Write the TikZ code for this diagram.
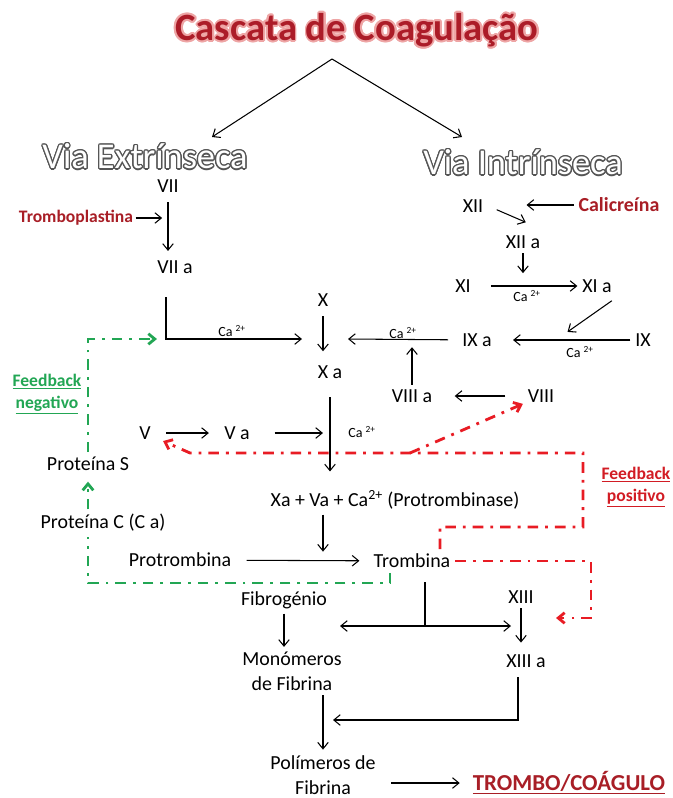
\documentclass[tikz,border=0pt]{standalone}
\usepackage{fontspec}
\setmainfont{Carlito}
\usepackage{contour}
\usetikzlibrary{arrows.meta}

\definecolor{titrerouge}{RGB}{172,28,40}
\definecolor{halo}{RGB}{238,165,165}
\definecolor{rougefonce}{RGB}{168,30,38}
\definecolor{rougevif}{RGB}{232,28,36}
\definecolor{rougetexte}{RGB}{210,28,36}
\definecolor{vert}{RGB}{34,166,84}
\definecolor{contourgris}{RGB}{85,85,85}

\tikzset{
  fac/.style={inner sep=4pt, align=center, font=\fontsize{17}{21}\selectfont},
  ca/.style={inner sep=1pt, font=\fontsize{12}{14}\selectfont},
  gras/.style 2 args={font=\fontsize{#1}{#2}\selectfont\bfseries},
  voie/.style={inner sep=0pt, font=\fontsize{31}{36}\selectfont},
  fl/.style={line width=0.9pt, ->},
  trait/.style={line width=0.9pt},
  retro/.style={line width=2.4pt, dash pattern=on 9pt off 6pt on 2.4pt off 6pt},
}

\begin{document}
\begin{tikzpicture}[x=0.03cm, y=-0.03cm, >={Straight Barb[length=5.5pt,width=9pt]}]
\useasboundingbox (0,0) rectangle (673,798);
% titre et les deux voies
\node[gras={33}{38}, text=titrerouge] (titre) at (357,31) {\contourlength{1.6pt}\contour{halo}{Cascata de Coagulação}};
\node[voie, text=white] (vext) at (145,157) {\contourlength{1.1pt}\contour{contourgris}{Via Extrínseca}};
\node[voie, text=white] (vint) at (523,163) {\contourlength{1.1pt}\contour{contourgris}{Via Intrínseca}};
\coordinate (apex) at (332,59);
\coordinate (versext) at (212,137);
\coordinate (versint) at (462,137);
\draw[fl] (apex) -- (versext);
\draw[fl] (apex) -- (versint);
% voie extrinseque
\node[fac] (vii) at (168,186) {VII};
\node[fac, gras={15}{18}, text=rougefonce, inner sep=2pt] (tpl) at (76,218) {Tromboplastina};
\node[fac] (viia) at (175,267) {VII a};
\draw[fl, shorten >=5pt] (tpl) -- (tpl -| vii);
\draw[fl, shorten <=4pt, shorten >=4pt] (vii) -- (vii |- viia.north);
% voie intrinseque
\node[fac] (xii) at (473,206) {XII};
\node[fac, gras={17}{20}, text=rougefonce] (cal) at (619,205) {Calicreína};
\node[fac] (xiia) at (523,242) {XII a};
\node[fac] (xi) at (463,286) {XI};
\node[fac] (xia) at (597,286) {XI a};
\node[fac] (ix) at (643,340) {IX};
\node[fac] (ixa) at (477,340) {IX a};
\node[ca] (ca3) at (527,296) {Ca \textsuperscript{2+}};
\node[ca] (ca4) at (580,352) {Ca \textsuperscript{2+}};
\coordinate (ixm) at (556,340);
\draw[fl, shorten <=8pt, shorten >=18pt] (xii.east) -- (xiia.north east);
\draw[fl, shorten >=3pt] (cal) -- (cal -| xiia);
\draw[fl, shorten >=11pt] (xiia) -- (xiia |- xi);
\draw[fl, shorten <=13pt] (xi) -- (xia);
\draw[fl, shorten <=5pt, shorten >=12pt] (xia.south east) -- (ixm);
\draw[fl, shorten >=14pt] (ix) -- (ixa);
% facteur X
\node[fac] (x) at (323,300) {X};
\node[fac] (xa) at (330,372) {X a};
\node[ca] (ca1) at (232,331) {Ca \textsuperscript{2+}};
\node[ca] (ca2) at (403,333) {Ca \textsuperscript{2+}};
\node[fac] (viiia) at (412,396) {VIII a};
\node[fac] (viii) at (541,396) {VIII};
\coordinate (coudehaut) at (166,297);
\coordinate (coude) at (166,339);
\coordinate (xg) at (302,339);
\coordinate (xd) at (348,339);
\draw[fl] (coudehaut) -- (coude) -- (xg);
\draw[fl, shorten <=4pt, shorten >=8pt] (x) -- (x |- xa.north);
\draw[fl, shorten <=8pt] (ixa) -- (xd);
\draw[fl, shorten >=7pt] (viiia) -- (viiia |- xd);
\draw[fl, shorten <=15pt, shorten >=15pt] (viii) -- (viiia);
% facteur V et protrombinase
\node[fac] (v) at (145,433) {V};
\node[fac] (va) at (237,433) {V a};
\node[ca] (ca5) at (362,432) {Ca \textsuperscript{2+}};
\node[fac] (pbase) at (395,500) {Xa + Va + Ca\textsuperscript{2+} (Protrombinase)};
\draw[fl, shorten <=9pt, shorten >=9pt] (v) -- (va);
\draw[fl, shorten <=17pt, shorten >=6pt] (va) -- (va -| xa);
\draw[fl, shorten <=12pt, shorten >=12pt] (xa) -- (xa |- pbase.north);
% trombina
\node[fac] (protr) at (180,560) {Protrombina};
\node[fac] (trom) at (412,561) {Trombina};
\draw[fl, shorten >=8pt] (pbase.south -| x) -- (x |- trom);
\draw[fl, shorten <=9pt, shorten >=8pt] (protr) -- (trom);
% fibrina
\node[fac] (fib) at (284,600) {Fibrogénio};
\node[fac] (xiii) at (521,597) {XIII};
\node[fac] (mono) at (292,671) {Monómeros\\de Fibrina};
\node[fac] (xiiia) at (526,661) {XIII a};
\node[fac, inner sep=2pt] (poly) at (323,775) {Polímeros de\\Fibrina};
\node[fac, gras={19.5}{23}, text=rougefonce] (coag) at (569,783) {\underline{TROMBO/COÁGULO}};
\coordinate (tb) at (425,626);
\coordinate (tg) at (340,626);
\coordinate (td) at (511,626);
\coordinate (k13) at (518,720);
\coordinate (verspoly) at (333,720);
\draw[trait, shorten <=8pt] (trom.south -| tb) -- (tb);
\draw[fl, <->] (tg) -- (td);
\draw[fl] (fib) -- (fib |- mono.north);
\draw[fl, shorten >=6pt] (xiii) -- (xiii |- xiiia.north);
\draw[fl, shorten <=4pt] (k13 |- xiiia.south) -- (k13) -- (verspoly);
\draw[fl, shorten >=3pt] (mono.south -| poly) -- (poly);
\draw[fl, shorten <=11pt, shorten >=7pt] (poly.east |- coag) -- (coag);
% feedback positivo
\node[fac, gras={15}{19}, text=rougetexte] (fbpos) at (636,487) {\underline{Feedback}\\\underline{positivo}};
\coordinate (pb) at (591,618);
\coordinate (pbfin) at (556,618);
\coordinate (ra) at (440,527);
\coordinate (rb) at (583,453);
\coordinate (rc) at (190,453);
\coordinate (rv) at (410,453);
\draw[retro, rougevif, ->] (trom) -| (pb) -- (pbfin);
\draw[retro, rougevif, ->, shorten >=7pt] (trom.north -| ra) -- (ra) -| (rb) -- (rc) -- (v);
\draw[retro, rougevif, ->] (rv) -- (viii);
% feedback negativo
\node[fac] (protc) at (103,523) {Proteína C (C a)};
\node[fac] (prots) at (88,464) {Proteína S};
\node[fac, gras={15}{19}, text=vert] (fbneg) at (47,394) {\underline{Feedback}\\\underline{negativo}};
\coordinate (na) at (390,583);
\coordinate (nb) at (88,583);
\coordinate (nfin) at (157,339);
\draw[retro, vert] (trom.south -| na) -- (na) -- (nb) -- (nb |- protc.south);
\draw[retro, vert, ->, shorten >=5pt] (protc.north -| nb) -- (prots);
\draw[retro, vert, ->] (prots) |- (nfin);
\end{tikzpicture}
\end{document}
